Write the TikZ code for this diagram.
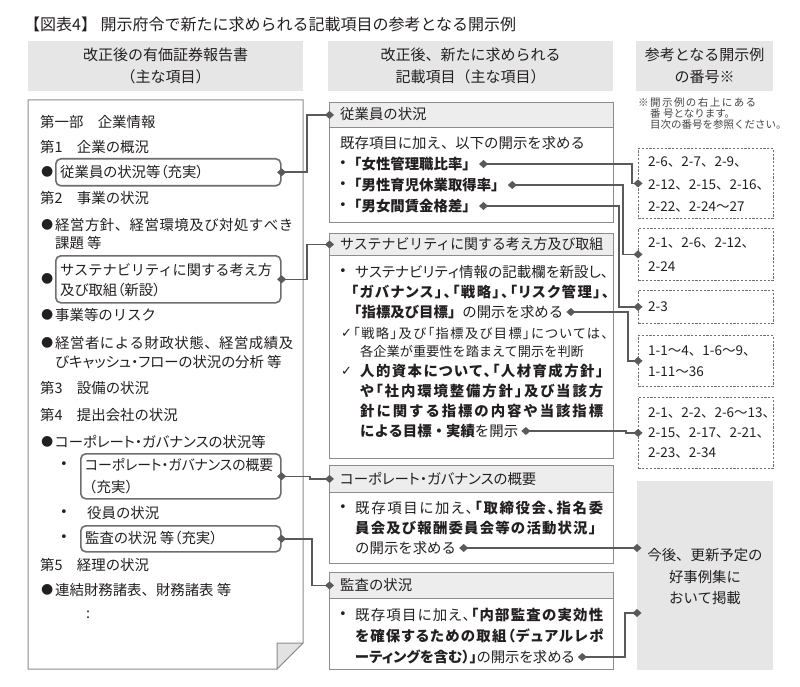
\documentclass[tikz,border=0pt]{standalone}
\usepackage{fontspec}
\usepackage{graphicx}
\setmainfont{Noto Sans CJK JP}
\newfontfamily\dvfont{DejaVu Sans}
\usetikzlibrary{arrows.meta}
\definecolor{txt}{HTML}{231F20}
\definecolor{hdrgray}{HTML}{E6E6E6}
\definecolor{headfill}{HTML}{EDEDED}
\definecolor{boxline}{HTML}{8C8C8C}
\definecolor{rline}{HTML}{6E6E6E}
\definecolor{connc}{HTML}{5A5A5A}
\definecolor{dline}{HTML}{707070}
\definecolor{foldc}{HTML}{E2E2E2}
\definecolor{notec}{HTML}{444444}
\newcommand\fsz[2]{\fontsize{#1pt}{#2pt}\selectfont}
\newcommand\pal{\addfontfeature{RawFeature=+palt}}
\newcommand\bul{{\dvfont\fontsize{13pt}{12pt}\selectfont •}}
\newcommand\bigdot{{\dvfont\fontsize{14pt}{14pt}\selectfont ●}}
\newcommand\chk{{\dvfont\fontsize{13pt}{12pt}\selectfont ✓}}
\let\B\bfseries
\let\M\mdseries
\def\jusend{\jusend}
\def\jusfirst#1{#1\ifx#1\B\expandafter\jusfirst\else\expandafter\jusloop\fi}
\def\jusloop#1{\ifx#1\jusend\else\ifx#1\B\else\ifx#1\M\else\hskip0pt plus 1fil\relax\fi\fi#1\expandafter\jusloop\fi}
\newlength\fitlen
\newcommand\fitline[2]{\settowidth\fitlen{#2}\ifdim\fitlen>#1\relax\resizebox{#1}{\height}{#2}\else\makebox[#1][s]{\jusfirst#2\jusend}\fi}
\newcommand\fitshrink[2]{\settowidth\fitlen{#2}\ifdim\fitlen>#1\relax\resizebox{#1}{\height}{#2}\else#2\fi}
\tikzset{
  lt/.style={anchor=west, font=\fsz{14.4}{20}},
  st/.style={anchor=west, font=\fsz{13.2}{18}},
  numt/.style={anchor=west, font=\fsz{13.5}{20}},
  notet/.style={anchor=west, font=\fsz{10.5}{11}, text=notec},
  dott/.style={anchor=west},
  hdrbox/.style={fill=hdrgray, anchor=north west, align=center, font=\fsz{15}{22}},
  midhead/.style={draw=boxline, line width=0.9pt, fill=headfill, anchor=north west, minimum width=284pt},
  midbody/.style={draw=boxline, line width=0.9pt, anchor=north west, minimum width=284pt},
  roundbox/.style={draw=rline, line width=1.6pt, rounded corners=5pt, anchor=north west},
  dashbox/.style={draw=dline, line width=0.8pt, dash pattern=on 2.2pt off 1.6pt, anchor=north west, minimum width=135pt},
  linkline/.style={draw=connc, line width=1.6pt, arrows={Diamond[length=9pt,width=8pt]-Diamond[length=9pt,width=8pt]}},
}
\begin{document}
\begin{tikzpicture}[x=1pt,y=-1pt, every node/.style={inner sep=0pt, text=txt}]
\fill[white] (0,0) rectangle (800,687);
\useasboundingbox (0,0) rectangle (800,687);

% title
\node[anchor=west, font=\fsz{16}{16}] (title) at (24,24) {【図表4】 開示府令で新たに求められる記載項目の参考となる開示例};

% column headers
\node[hdrbox, minimum width=275pt, minimum height=50pt] (h1) at (28,41) {改正後の有価証券報告書\\（主な項目）};
\node[hdrbox, minimum width=285pt, minimum height=50pt] (h2) at (328,41) {改正後、新たに求められる\\記載項目（主な項目）};
\node[hdrbox, minimum width=137pt, minimum height=50pt] (h3) at (636,41) {参考となる開示例\\の番号※};

% left document
\draw[draw=boxline, line width=1pt] (28,100) -- (303,100) -- (303,643) -- (277,669) -- (28,669) -- cycle;
\draw[draw=boxline, line width=1pt, fill=foldc] (277,669) -- (277,643) -- (303,643) -- cycle;

\node[lt] (l1) at (40,122) {第一部　企業情報};
\node[lt] (l2) at (40,147) {第1　企業の概況};
\node[dott] (l3b) at (41,172) {\bigdot};
\node[roundbox, minimum width=225pt, minimum height=27pt] (lb1) at (55,158) {};
\node[lt] (l3) at (60,172) {\pal 従業員の状況等（充実）};
\node[lt] (l4) at (40,198) {第2　事業の状況};
\node[dott] (l5d) at (41,225) {\bigdot};
\node[lt] (l5) at (55,225) {\fitline{238pt}{経営方針、経営環境及び対処すべき}};
\node[lt] (l5b) at (55,243) {課題 等};
\node[dott] (l6b) at (41,279) {\bigdot};
\node[roundbox, minimum width=225pt, minimum height=47pt] (lb2) at (55,255) {};
\node[lt] (l6) at (60,270) {\fitshrink{212pt}{サステナビリティに関する考え方}};
\node[lt] (l6c) at (60,290) {\pal 及び取組（新設）};
\node[dott] (l7d) at (41,315) {\bigdot};
\node[lt] (l7) at (55,315) {事業等のリスク};
\node[dott] (l8d) at (41,343) {\bigdot};
\node[lt] (l8) at (55,343) {\fitline{238pt}{経営者による財政状態、経営成績及}};
\node[lt] (l8b) at (55,362) {\pal\fitshrink{231pt}{びキャッシュ・フローの状況の分析 等}};
\node[lt] (l9) at (40,388) {第3　設備の状況};
\node[lt] (l10) at (40,415) {第4　提出会社の状況};
\node[dott] (l11d) at (41,442) {\bigdot};
\node[lt] (l11) at (55,442) {\pal\fitshrink{222pt}{コーポレート・ガバナンスの状況等}};
\node[dott] (l12b) at (60,465) {\bul};
\node[roundbox, minimum width=200pt, minimum height=45pt] (lb3) at (80,453) {};
\node[lt] (l12) at (85,465) {\pal\fitshrink{188pt}{コーポレート・ガバナンスの概要}};
\node[lt] (l12c) at (82,487) {（充実）};
\node[dott] (l13b) at (60,513) {\bul};
\node[lt] (l13) at (87,513) {役員の状況};
\node[dott] (l14b) at (60,538) {\bul};
\node[roundbox, minimum width=200pt, minimum height=26pt] (lb4) at (80,525) {};
\node[lt] (l14) at (85,538) {\pal 監査の状況 等（充実）};
\node[lt] (l15) at (40,565) {第5　経理の状況};
\node[dott] (l16d) at (41,590) {\bigdot};
\node[lt] (l16) at (55,590) {連結財務諸表、財務諸表 等};
\node[lt] (l17) at (86,615) {:};

% middle box 1
\node[midhead, minimum height=25pt] (mh1) at (329,102) {};
\node[lt] (mh1t) at (340,114.5) {従業員の状況};
\node[midbody, minimum height=95pt] (mb1) at (329,127) {};
\node[lt] (m1a) at (340,143) {既存項目に加え、以下の開示を求める};
\node[dott] (m1bb) at (339,164) {\bul};
\node[lt] (m1b) at (347,164) {\B「女性管理職比率」};
\node[dott] (m1cb) at (339,185) {\bul};
\node[lt] (m1c) at (347,185) {\B「男性育児休業取得率」};
\node[dott] (m1db) at (339,206) {\bul};
\node[lt] (m1d) at (347,206) {\B「男女間賃金格差」};

% middle box 2
\node[midhead, minimum height=22pt] (mh2) at (329,233) {};
\node[lt] (mh2t) at (340,244) {\fitshrink{263pt}{サステナビリティに関する考え方及び取組}};
\node[midbody, minimum height=203pt] (mb2) at (329,255) {};
\node[dott] (m2ab) at (339,272) {\bul};
\node[lt] (m2a) at (355,272) {\pal\fitline{253pt}{サステナビリティ情報の記載欄を新設し、}};
\node[lt] (m2b) at (351,292) {\B\pal\fitline{258pt}{「ガバナンス」、「戦略」、「リスク管理」、}};
\node[lt] (m2c) at (347,312) {\B「指標及び目標」\M の開示を求める};
\node[dott] (m2dk) at (341,333) {\chk};
\node[st] (m2d) at (353,333) {\pal\fitline{255pt}{「戦略」及び「指標及び目標」については、}};
\node[st] (m2e) at (360,351) {各企業が重要性を踏まえて開示を判断};
\node[dott] (m2fk) at (341,371) {\chk};
\node[lt] (m2f) at (360,371) {\B\pal\fitline{243pt}{人的資本について、「人材育成方針」}};
\node[lt] (m2g) at (360,391) {\B\pal\fitline{243pt}{や「社内環境整備方針」及び当該方}};
\node[lt] (m2h) at (360,411) {\B\fitline{243pt}{針に関する指標の内容や当該指標}};
\node[lt] (m2i) at (360,431) {\B による目標・実績\M を開示};

% middle box 3
\node[midhead, minimum height=27pt] (mh3) at (329,465) {};
\node[lt] (mh3t) at (340,478.5) {\pal コーポレート・ガバナンスの概要};
\node[midbody, minimum height=71pt] (mb3) at (329,492) {};
\node[dott] (m3ab) at (339,508) {\bul};
\node[lt] (m3a) at (355,508) {\pal\fitline{248pt}{既存項目に加え、\B「取締役会、指名委}};
\node[lt] (m3b) at (355,528) {\B\fitline{248pt}{員会及び報酬委員会等の活動状況」}};
\node[lt] (m3c) at (355,548) {の開示を求める};

% middle box 4
\node[midhead, minimum height=26pt] (mh4) at (329,572) {};
\node[lt] (mh4t) at (340,585) {監査の状況};
\node[midbody, minimum height=71pt] (mb4) at (329,598) {};
\node[dott] (m4ab) at (339,615) {\bul};
\node[lt] (m4a) at (355,615) {\pal\fitline{248pt}{既存項目に加え、\B「内部監査の実効性}};
\node[lt] (m4b) at (355,636) {\B\pal\fitline{248pt}{を確保するための取組（デュアルレポ}};
\node[lt] (m4c) at (355,657) {\B\pal ーティングを含む）」\M の開示を求める};

% right column
\node[notet] (n1) at (638,103) {\fitline{118pt}{※開示例の右上にある}};
\node[notet] (n2) at (650,114) {番 号となります。};
\node[notet] (n3) at (650,125) {目次の番号を参照ください。};

\node[dashbox, minimum height=70pt] (rb1) at (638,148) {};
\node[numt] (r1a) at (648,162) {2-6、2-7、2-9、};
\node[numt] (r1b) at (648,185) {2-12、2-15、2-16、};
\node[numt] (r1c) at (648,207) {2-22、2-24～27};
\node[dashbox, minimum height=52pt] (rb2) at (638,228) {};
\node[numt] (r2a) at (648,243) {2-1、2-6、2-12、};
\node[numt] (r2b) at (648,267) {2-24};
\node[dashbox, minimum height=33pt] (rb3) at (638,290) {};
\node[numt] (r3a) at (648,307) {2-3};
\node[dashbox, minimum height=51pt] (rb4) at (638,335) {};
\node[numt] (r4a) at (648,351) {1-1～4、1-6～9、};
\node[numt] (r4b) at (648,372) {1-11～36};
\node[dashbox, minimum height=71pt] (rb5) at (638,397) {};
\node[numt] (r5a) at (648,413) {2-1、2-2、2-6～13、};
\node[numt] (r5b) at (648,433) {2-15、2-17、2-21、};
\node[numt] (r5c) at (648,453) {2-23、2-34};

\node[fill=hdrgray, anchor=north west, minimum width=136pt, minimum height=189pt] (gb) at (637,481) {};
\node[align=center, font=\fsz{14.4}{21.5}] (gbt) at (705,577) {今後、更新予定の\\好事例集に\\おいて掲載};

% run coordinates
\coordinate (v1) at (307,0);
\coordinate (v3) at (310,0);
\coordinate (v4) at (312,0);
\coordinate (w1) at (632,0);
\coordinate (w2) at (623,0);
\coordinate (w3) at (619,0);
\coordinate (w4) at (628,0);
\coordinate (w5) at (626,0);
\coordinate (w6) at (625,0);
\coordinate (y613) at (0,613);

% connectors left -> middle
\draw[linkline] ([xshift=-4.5pt]lb1.east) -- (lb1.east -| v1) |- ([xshift=5pt]mh1.west);
\draw[linkline] ([xshift=-4.5pt]lb2.east) -- (lb2.east -| v1) |- ([xshift=5pt]mh2.west);
\draw[linkline] ([xshift=-4.5pt]lb3.east) -- (lb3.east -| v3) |- ([xshift=5pt]mh3.west);
\draw[linkline] ([xshift=-4.5pt]lb4.east) -- (lb4.east -| v4) |- ([xshift=5pt]mh4.west);

% connectors middle -> right
\draw[linkline] ([xshift=2pt]m1b.east) -- (m1b.east -| w1) |- ([xshift=4.5pt]rb1.west);
\draw[linkline] ([xshift=2pt]m1c.east) -- (m1c.east -| w2) |- ([xshift=4.5pt]rb2.west);
\draw[linkline] ([xshift=2pt]m1d.east) -- (m1d.east -| w3) |- ([xshift=4.5pt]rb3.west);
\draw[linkline] ([xshift=3pt]m2c.east) -- (m2c.east -| w4) |- ([xshift=4.5pt]rb4.west);
\draw[linkline] ([xshift=3pt]m2i.east) -- (m2i.east -| w5) |- ([xshift=4.5pt]rb5.west);
\draw[linkline] ([xshift=3pt]m3c.east) -- ([xshift=4.5pt]gb.west |- m3c.east);
\draw[linkline] ([xshift=3pt]m4c.east) -- (m4c.east -| w6) |- ([xshift=4.5pt]gb.west |- y613);
\end{tikzpicture}
\end{document}
